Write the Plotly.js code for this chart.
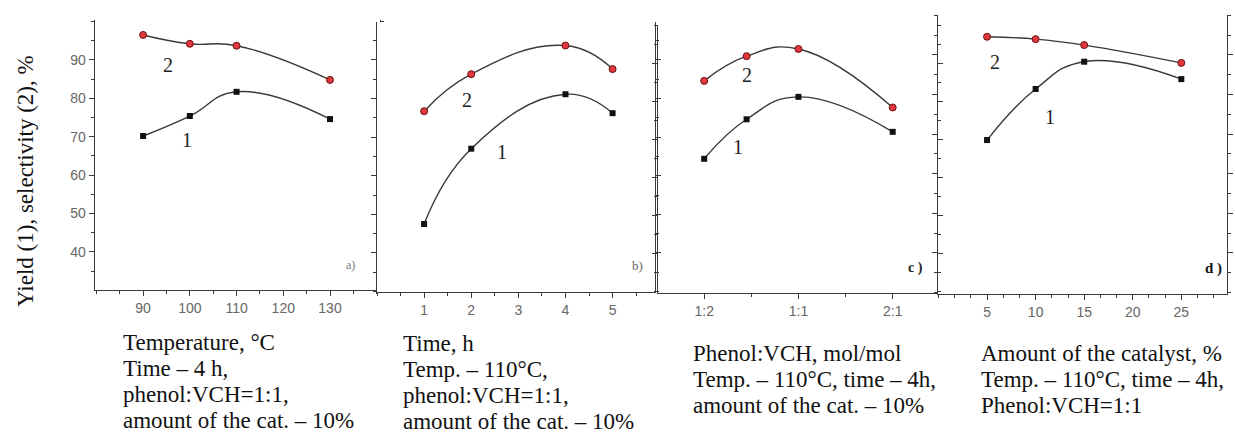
<!DOCTYPE html>
<html>
<head>
<meta charset="utf-8">
<script src="https://cdn.plot.ly/plotly-3.0.1.min.js"></script>
<style>html,body{margin:0;padding:0;background:#fff}#chart{width:1235px;height:435px}</style>
</head>
<body>
<div id="chart"></div>
<script>
// ---- data ----
const aX = [90, 100, 110, 130];
const aYield = [70.2, 75.4, 81.7, 74.6];
const aSel = [96.5, 94.2, 93.7, 84.8];

const bX = [1, 2, 4, 5];
const bYield = [47.5, 67.0, 81.1, 76.2];
const bSel = [76.7, 86.3, 93.7, 87.6];

const cX = [1, 1.45, 2, 3];
const cTickVals = [1, 2, 3];
const cTickText = ['1:2', '1:1', '2:1'];
const cYield = [64.8, 75.2, 81.1, 71.9];
const cSel = [85.3, 91.8, 93.7, 78.3];

const dX = [5, 10, 15, 25];
const dYield = [68.5, 81.4, 88.3, 83.9];
const dSel = [94.6, 94.0, 92.5, 88.0];

const yTickVals = [40, 50, 60, 70, 80, 90];
const aTickVals = [90, 100, 110, 120, 130];
const bTickVals = [1, 2, 3, 4, 5];
const dTickVals = [5, 10, 15, 20, 25];

const yTitle = 'Yield (1), selectivity (2), %';
const captions = [
  ['Temperature, °C', 'Time – 4 h,', 'phenol:VCH=1:1,', 'amount of the cat. – 10%'],
  ['Time, h', 'Temp. – 110°C,', 'phenol:VCH=1:1,', 'amount of the cat. – 10%'],
  ['Phenol:VCH, mol/mol', 'Temp. – 110°C, time – 4h,', 'amount of the cat. – 10%'],
  ['Amount of the catalyst, %', 'Temp. – 110°C, time – 4h,', 'Phenol:VCH=1:1']
];
const panelTags = ['a)', 'b)', 'c )', 'd )'];

// ---- helpers ----
const W = 1235, H = 435;
const px = v => v / W;
const py = v => 1 - v / H;

const lineCol = '#3a3a3a';
const redCol = 'rgb(225,55,62)';
const serif = 'Liberation Serif, Times New Roman, serif';

function series(x, y, axN, isSel) {
  const sfx = axN === 1 ? '' : String(axN);
  return {
    x: x, y: y, xaxis: 'x' + sfx, yaxis: 'y' + sfx,
    type: 'scatter', mode: 'lines+markers',
    line: {shape: 'spline', smoothing: 1.3, color: lineCol, width: 1.4},
    marker: isSel
      ? {color: redCol, size: 7, line: {color: '#6a1010', width: 1}}
      : {color: '#111', size: 6, symbol: 'square', line: {width: 0}},
    hoverinfo: 'x+y', showlegend: false
  };
}

const data = [
  series(aX, aYield, 1, false), series(aX, aSel, 1, true),
  series(bX, bYield, 2, false), series(bX, bSel, 2, true),
  series(cX, cYield, 3, false), series(cX, cSel, 3, true),
  series(dX, dYield, 4, false), series(dX, dSel, 4, true)
];

const tickFont = {family: 'Liberation Sans, Arial, sans-serif', size: 14, color: '#666'};

function xAxis(left, right, range, tickvals, ticktext, minorDtick, anchor) {
  const ax = {
    domain: [px(left), px(right)], range: range, anchor: anchor,
    showline: true, linecolor: lineCol, linewidth: 1.3, mirror: false,
    ticks: 'outside', ticklen: 5, tickwidth: 1, tickcolor: lineCol,
    tickmode: 'array', tickvals: tickvals,
    minor: {ticks: 'outside', ticklen: 3, tickwidth: 1, tickcolor: lineCol, dtick: minorDtick, tick0: 0, showgrid: false},
    showgrid: false, zeroline: false, tickfont: tickFont, fixedrange: true
  };
  if (ticktext) ax.ticktext = ticktext;
  return ax;
}
function yAxis(top, bottom, range, anchor, showLabels) {
  return {
    domain: [py(bottom), py(top)], range: range, anchor: anchor,
    showline: true, linecolor: lineCol, linewidth: 1.3, mirror: 'ticks',
    ticks: 'outside', ticklen: 5, tickwidth: 1, tickcolor: lineCol,
    tickmode: 'array', tickvals: yTickVals, showticklabels: showLabels,
    minor: {ticks: 'outside', ticklen: 3, tickwidth: 1, tickcolor: lineCol, dtick: 5, tick0: 0, showgrid: false},
    showgrid: false, zeroline: false, tickfont: tickFont, fixedrange: true
  };
}

const annotations = [];
// y title
annotations.push({
  text: yTitle, xref: 'paper', yref: 'paper', x: px(25), y: py(181),
  textangle: -90, showarrow: false, xanchor: 'center', yanchor: 'middle',
  font: {family: serif, size: 23, color: '#111'}
});
// curve labels
const curveLabels = [
  {t: '2', x: 95.3, y: 88.7, ax: 1}, {t: '1', x: 99.4, y: 69.2, ax: 1},
  {t: '2', x: 1.91, y: 79.6, ax: 2}, {t: '1', x: 2.65, y: 66.2, ax: 2},
  {t: '2', x: 1.455, y: 86.8, ax: 3}, {t: '1', x: 1.36, y: 67.9, ax: 3},
  {t: '2', x: 5.8, y: 88.2, ax: 4}, {t: '1', x: 11.5, y: 74.3, ax: 4}
];
curveLabels.forEach(l => {
  const s = l.ax === 1 ? '' : String(l.ax);
  annotations.push({text: l.t, xref: 'x' + s, yref: 'y' + s, x: l.x, y: l.y, showarrow: false,
    font: {family: serif, size: 20, color: '#222'}});
});
// panel tags
const tagPos = [[350, 265, 12, '#777'], [637, 265, 13, '#666'], [915, 268, 14, '#222'], [1213, 268, 15, '#111']];
panelTags.forEach((t, i) => {
  annotations.push({text: i >= 2 ? '<b>' + t + '</b>' : t, xref: 'paper', yref: 'paper',
    x: px(tagPos[i][0]), y: py(tagPos[i][1]), showarrow: false, xanchor: 'center', yanchor: 'middle',
    font: {family: serif, size: tagPos[i][2], color: tagPos[i][3]}});
});
// captions
const capLeft = [122, 402, 692, 980];
const capTop = [342, 343, 353, 353];
const capStep = 26;
captions.forEach((lines, i) => {
  lines.forEach((ln, j) => {
    annotations.push({text: ln, xref: 'paper', yref: 'paper', x: px(capLeft[i]), y: py(capTop[i] + j * capStep),
      showarrow: false, xanchor: 'left', yanchor: 'middle', borderpad: 0,
      font: {family: serif, size: 23, color: '#111'}});
  });
});

const layout = {
  width: W, height: H,
  margin: {l: 0, r: 0, t: 0, b: 0},
  paper_bgcolor: '#fff', plot_bgcolor: '#fff',
  showlegend: false,
  xaxis: xAxis(95, 380, [79.7, 140.7], aTickVals, null, 5, 'y'),
  yaxis: yAxis(20, 290, [30.1, 100.4], 'x', true),
  xaxis2: xAxis(377, 655, [0, 5.9], bTickVals, null, 0.5, 'y2'),
  yaxis2: yAxis(22, 292, [29.9, 99.8], 'x2', false),
  xaxis3: xAxis(658, 937, [0.51, 3.47], cTickVals, cTickText, 0.5, 'y3'),
  yaxis3: yAxis(25, 293, [29.5, 100], 'x3', false),
  xaxis4: xAxis(938, 1227, [-0.05, 29.7], dTickVals, null, 5 / 3, 'y4'),
  yaxis4: yAxis(15, 294, [29.6, 100.1], 'x4', false),
  annotations: annotations
};

Plotly.newPlot('chart', data, layout, {displayModeBar: false, staticPlot: true});
</script>
</body>
</html>
